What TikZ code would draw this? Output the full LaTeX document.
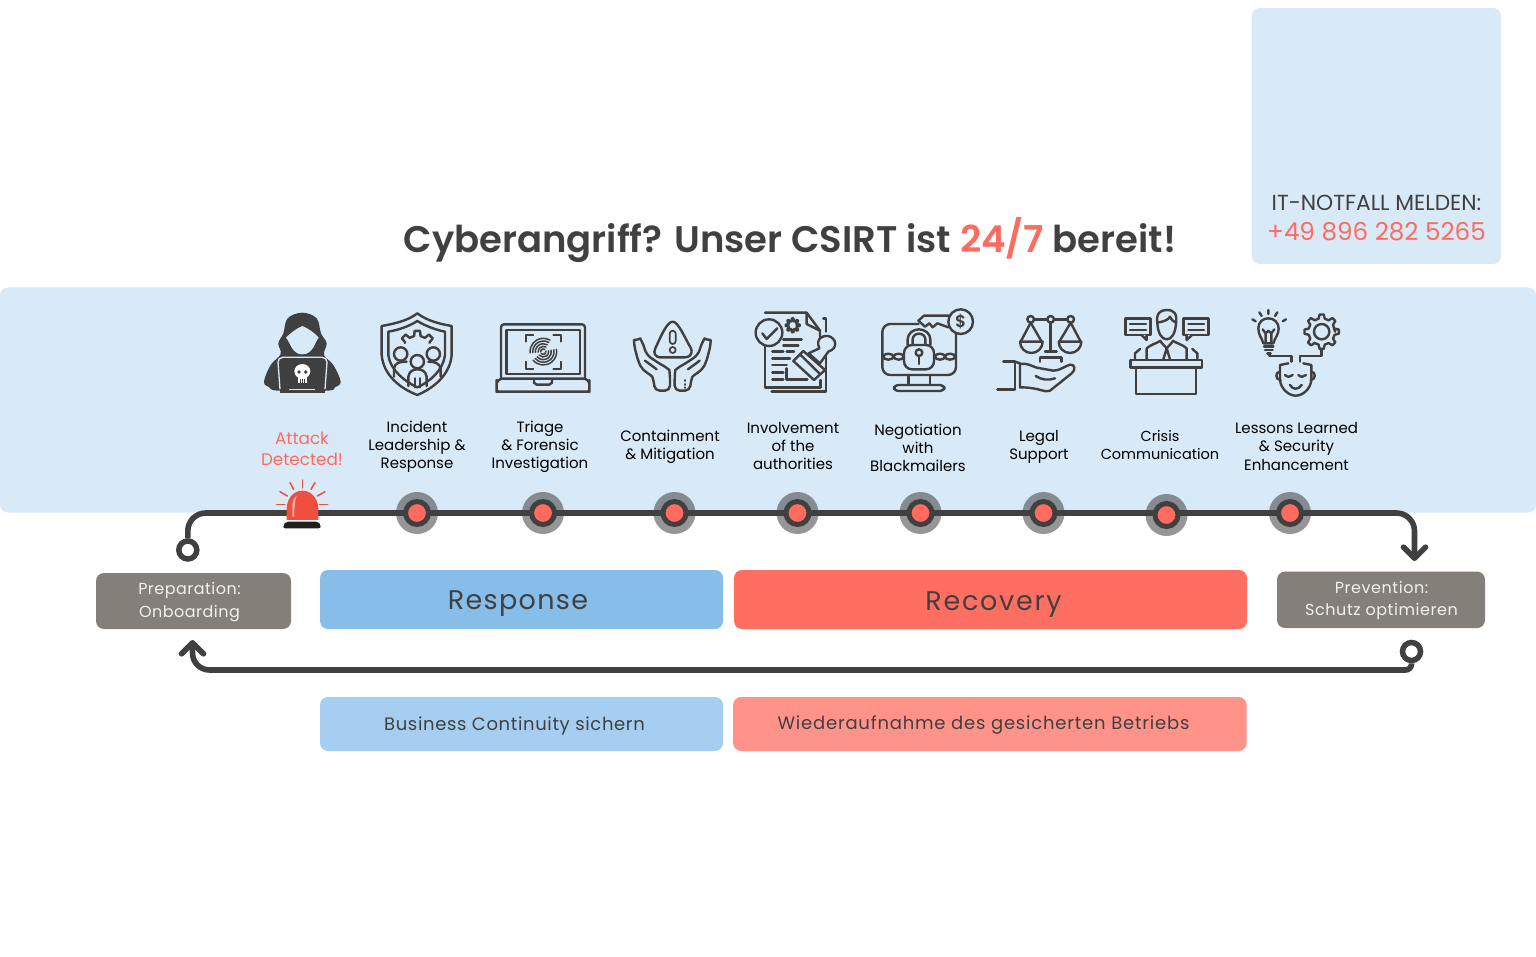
\documentclass[tikz,border=0pt]{standalone}
\usepackage{fontspec}
\setmainfont{Poppins}
\usetikzlibrary{arrows.meta,calc}
\definecolor{panelc}{HTML}{D8E9F8}
\definecolor{dark}{HTML}{404040}
\definecolor{salmon}{HTML}{FF6B5E}
\definecolor{respc}{HTML}{87BEE9}
\definecolor{recc}{HTML}{FF6F61}
\definecolor{resl}{HTML}{A5CEF0}
\definecolor{recl}{HTML}{FF938A}
\definecolor{greyb}{HTML}{857F7A}
\definecolor{greyt}{HTML}{F2F0EE}
\definecolor{sirenc}{HTML}{F04E3E}
\newcommand{\fs}[2]{\fontsize{#1}{#2}\selectfont}
\tikzset{
 z/.style 2 args={x=.33333pt,y=-.33333pt,xshift=#1pt,yshift=-#2pt},
 ic/.style={draw=dark,line width=2.4pt,line cap=round,line join=round},
 icthin/.style={draw=dark,line width=1.7pt,line cap=round,line join=round},
 box/.style={rounded corners=8pt,inner sep=0pt},
 lab/.style={align=center,inner sep=0pt,font=\fs{15}{18},text=black},
 flow/.style={draw=dark,line width=5.6pt,rounded corners=18pt},
 endring/.style={circle,draw=dark,line width=5.5pt,fill=white,minimum size=18pt,inner sep=0pt},
 stepdot/.style={circle,draw=dark,line width=5pt,fill=salmon,minimum size=23pt,inner sep=0pt},
 halo/.style={circle,fill=dark,fill opacity=.55,minimum size=42pt,inner sep=0pt},
 barb/.style={-{Straight Barb[length=11pt,width=22pt,round]}},
}
% closed or open toothed outline: centre x, y, inner r, outer r, tooth step, first angle, list of tooth angles
\newcommand{\gearline}[7]{\draw[ic] ($(#1,#2)+(#6:#3)$) \foreach \ang in {#7}{ -- ($(#1,#2)+({\ang-.30*#5}:#3)$) -- ($(#1,#2)+({\ang-.15*#5}:#4)$) -- ($(#1,#2)+({\ang+.15*#5}:#4)$) -- ($(#1,#2)+({\ang+.30*#5}:#3)$) } -- ($(#1,#2)+(#6:#3)$);}
\begin{document}
\begin{tikzpicture}[x=1pt,y=-1pt]
\useasboundingbox (0,0) rectangle (1536,957);
\fill[white] (0,0) rectangle (1536,957);
% panels
\node[box,fill=panelc,minimum width=249pt,minimum height=256pt] (alarmbox) at (1376.5,136) {};
\node[box,fill=panelc,minimum width=1536pt,minimum height=225pt] (panel) at (768,400) {};
\node[inner sep=0pt,text=dark,font=\fs{21.8}{26}] (alarm1) at (1376.5,203) {IT-NOTFALL MELDEN:};
\node[inner sep=0pt,text=salmon,font=\fs{24.6}{28}] (alarm2) at (1376.5,231.5) {+49 896 282 5265};
\node[inner sep=0pt,text=dark,font=\fs{37}{44}\fontspec{Poppins SemiBold}] (title) at (790,240) {Cyberangriff? Unser CSIRT ist {\color{salmon}24/7} bereit!};
% phase boxes
\node[box,fill=greyb,minimum width=195pt,minimum height=56pt] (prep) at (193.5,601) {};
\node[text=greyt,align=center,inner sep=0pt,font=\fs{16}{23}\addfontfeature{LetterSpace=3}] (preptxt) at (189.5,602) {Preparation:\\Onboarding};
\node[box,fill=respc,minimum width=403pt,minimum height=59pt] (resp) at (521.5,599.5) {};
\node[inner sep=0pt,text=dark,font=\fs{27}{32}\addfontfeature{LetterSpace=5}] (resptxt) at (518,603.5) {Response};
\node[box,fill=recc,minimum width=513pt,minimum height=59pt] (rec) at (990.5,599.5) {};
\node[inner sep=0pt,text=dark,font=\fs{27}{32}\addfontfeature{LetterSpace=6.5}] (rectxt) at (993.5,604.5) {Recovery};
\node[box,fill=greyb,minimum width=208pt,minimum height=56.5pt] (prev) at (1381,599.8) {};
\node[text=greyt,align=center,inner sep=0pt,font=\fs{16}{22}\addfontfeature{LetterSpace=3.5}] (prevtxt) at (1381.5,600) {Prevention:\\Schutz optimieren};
\node[box,fill=resl,minimum width=403pt,minimum height=54pt] (bc) at (521.5,724) {};
\node[inner sep=0pt,text=dark,font=\fs{18}{22}\addfontfeature{LetterSpace=3.6}] (bctxt) at (514.5,725.5) {Business Continuity sichern};
\node[box,fill=recl,minimum width=513.5pt,minimum height=54pt] (wb) at (989.8,724) {};
\node[inner sep=0pt,text=dark,font=\fs{18}{22}\addfontfeature{LetterSpace=4.4}] (wbtxt) at (983.5,725) {Wiederaufnahme des gesicherten Betriebs};
% connectors
\node[endring] (start) at (187.8,550) {};
\coordinate (topmid) at (800,513);
\coordinate (tipright) at (1414.5,561);
\draw[flow,barb] (start.north) |- (topmid) -| (tipright);
\node[endring] (loopstart) at (1411.5,651.5) {};
\coordinate (botmid) at (800,670);
\coordinate (tipleft) at (192.5,640);
\draw[draw=dark,line width=5.6pt,barb] (loopstart.south) [rounded corners=6pt] |- (botmid) [rounded corners=17pt] -| (tipleft);
% step markers
\foreach \n/\xx/\yy in {1/417/513,2/543/513,3/674.5/513,4/797.5/513,5/920.5/513,6/1043.5/513,7/1166.5/515,8/1290/513}{
  \node[halo] (halo\n) at (\xx,\yy) {};
  \node[stepdot] (stepn\n) at (\xx,\yy) {};
}
% labels
\node[lab,text=salmon,font=\fs{16.8}{21}] (l0) at (302,449) {Attack\\Detected!};
\node[lab] (l1) at (417,446.5) {Incident\\Leadership \&\\Response};
\node[lab] (l2) at (540,446.5) {Triage\\\& Forensic\\Investigation};
\node[lab] (l3) at (670,446.5) {Containment\\\& Mitigation};
\node[lab] (l4) at (793,446) {Involvement\\of the\\authorities};
\node[lab] (l5) at (918,447.5) {Negotiation\\with\\Blackmailers};
\node[lab] (l6) at (1039,446.5) {Legal\\Support};
\node[lab,font=\fs{14.5}{18}] (l7) at (1160,445.5) {Crisis\\Communication};
\node[lab,font=\fs{15}{18.5}] (l8) at (1296.5,446.5) {Lessons Learned\\\& Security\\Enhancement};
% siren
\begin{scope}[z={250}{300}]
 \foreach \a/\b/\c/\d in {157/540/157/564,120/548/131/568,195/548/183/568,90/575/112/588,225/575/202/588,80/613/105/613,208/613/233/613}
   \draw[sirenc,line width=1.5pt,line cap=round] (\a,\b) -- (\c,\d);
 \fill[sirenc] (110,660) -- (110,625) .. controls (112,590) and (135,572) .. (157,572) .. controls (180,572) and (203,590) .. (205,625) -- (205,660) -- cycle;
 \fill[white,opacity=.55] (127,650) -- (127,615) .. controls (128,600) and (133,592) .. (140,587) .. controls (135,600) and (133,615) .. (133,650) -- cycle;
 \fill[black!88,rounded corners=2pt] (100,685) -- (100,675) -- (108,665) -- (205,665) -- (212,675) -- (212,685) -- cycle;
\end{scope}
% hacker
\begin{scope}[z={250}{300}]
 \fill[dark] plot[smooth cycle,tension=.6] coordinates {(157,38) (200,55) (213,100) (230,130) (222,165) (250,195) (272,245) (255,262) (232,272) (85,272) (58,262) (42,245) (62,195) (92,162) (85,130) (100,100) (113,55)};
 \fill[panelc] (157,78) .. controls (140,85) and (120,100) .. (108,113) .. controls (120,125) and (125,163) .. (157,163) .. controls (190,163) and (195,125) .. (206,113) .. controls (195,100) and (175,85) .. (157,78) -- cycle;
 \draw[panelc,line width=1.3pt,rounded corners=5pt,fill=dark] (90,268) -- (83,172) -- (232,172) -- (225,268);
 \fill[dark] (90,268) rectangle (225,280);
 \draw[panelc,line width=1.2pt] (118,268) -- (195,268);
 \fill[white] (157,214) ellipse (24 and 22);
 \fill[white] (143,225) rectangle (171,250);
 \fill[dark] (147,216) circle (5.5) (167,216) circle (5.5);
 \draw[dark,line width=.7pt] (150,238) -- (150,250) (157,238) -- (157,250) (164,238) -- (164,250);
\end{scope}
% shield
\begin{scope}[z={250}{300}]
 \draw[ic] (502,40) .. controls (530,62) and (570,72) .. (605,78) -- (605,165) .. controls (600,225) and (550,265) .. (502,285) .. controls (450,265) and (400,225) .. (395,165) -- (395,78) .. controls (430,72) and (475,62) .. (502,40) -- cycle;
 \draw[ic] (502,63) .. controls (530,80) and (560,90) .. (585,95) -- (585,165) .. controls (580,210) and (540,245) .. (502,262) .. controls (465,245) and (420,210) .. (415,165) -- (415,95) .. controls (445,90) and (475,80) .. (502,63) -- cycle;
 \draw[ic] ($(502,150)+(210:43)$) \foreach \ang in {225,270,315}{ -- ($(502,150)+({\ang-13}:43)$) -- ($(502,150)+({\ang-8}:58)$) -- ($(502,150)+({\ang+8}:58)$) -- ($(502,150)+({\ang+13}:43)$) } -- ($(502,150)+(-30:43)$);
 \draw[ic,fill=panelc] (452,162) circle (20) (550,162) circle (20);
 \draw[ic] (432,230) -- (432,205) .. controls (435,190) and (445,185) .. (470,185);
 \draw[ic] (572,230) -- (572,205) .. controls (568,190) and (555,185) .. (535,185);
 \draw[ic,fill=panelc] (502,185) circle (20);
 \draw[ic] (475,258) -- (475,230) .. controls (478,213) and (490,208) .. (502,208) .. controls (515,208) and (527,213) .. (530,230) -- (530,258);
 \draw[ic] (495,235) -- (495,262) (510,235) -- (510,262);
\end{scope}
% laptop
\begin{scope}[z={250}{300}]
 \draw[ic,rounded corners=3pt] (753,236) -- (753,73) -- (1005,73) -- (1005,236);
 \draw[ic] (770,90) rectangle (990,222);
 \draw[ic,rounded corners=6pt] (740,236) -- (1018,236) -- (1018,258) .. controls (1018,268) and (1010,275) .. (1000,275) -- (758,275) .. controls (748,275) and (740,268) .. (740,258) -- cycle;
 \draw[ic] (852,238) -- (852,248) -- (860,254) -- (898,254) -- (906,248) -- (906,238);
 \draw[icthin] (828,125) -- (828,105) -- (850,105) (910,105) -- (932,105) -- (932,125) (932,185) -- (932,207) -- (910,207) (850,207) -- (828,207) -- (828,185);
 \foreach \r in {8,16,24,32,40}{
  \draw[draw=dark,line width=1.5pt,line cap=round] ($(880,155)+(140:\r)$) arc (140:-10:\r);
  \draw[draw=dark,line width=1.5pt,line cap=round] ($(880,155)+(175:\r)$) arc (175:300:\r);
 }
\end{scope}
% containment
\begin{scope}[z={610}{300}]
 \draw[ic] (188,65) .. controls (205,65) and (225,115) .. (243,145) .. controls (250,165) and (235,172) .. (225,172) -- (150,172) .. controls (138,172) and (128,160) .. (136,145) .. controls (150,115) and (170,65) .. (188,65) -- cycle;
 \draw[icthin,rounded corners=3pt] (179,92) rectangle (197,132);
 \draw[icthin] (188,150) circle (9);
 \draw[ic,rounded corners=5pt] (180,272) -- (180,225) .. controls (178,210) and (165,200) .. (150,192) -- (110,165) -- (98,128) .. controls (92,118) and (72,120) .. (72,135) -- (85,185) .. controls (100,215) and (125,225) .. (132,245) -- (134,272) -- cycle;
 \draw[ic] (105,182) -- (140,208);
 \draw[ic,rounded corners=5pt] (194,272) -- (194,225) .. controls (196,210) and (209,200) .. (224,192) -- (264,165) -- (276,128) .. controls (282,118) and (302,120) .. (302,135) -- (289,185) .. controls (274,215) and (249,225) .. (242,245) -- (240,272) -- cycle;
 \draw[ic] (269,182) -- (234,208);
 \draw[icthin] (225,240) -- (225,243) (225,252) -- (225,255) (225,262) -- (225,264);
\end{scope}
% document and stamp
\begin{scope}[z={610}{300}]
 \draw[ic] (465,38) -- (590,38) -- (630,92) -- (630,112);
 \draw[ic] (590,38) -- (590,72) -- (630,92);
 \draw[ic] (640,55) -- (648,55) -- (648,95);
 \draw[ic] (465,140) -- (465,262) -- (632,262) -- (632,240);
 \draw[ic] (485,275) -- (648,275) -- (648,170);
 \draw[ic] (477,98) circle (40);
 \draw[ic] (457,100) -- (470,117) -- (502,85);
 \gearline{548}{76}{13}{21}{45}{0}{0,45,90,135,180,225,270,315}
 \draw[ic] (520,118) -- (575,118) (520,137) -- (565,137) (487,155) -- (520,155) (530,155) -- (552,155) (487,175) -- (540,175) (487,195) -- (530,195) (487,218) -- (520,218) (487,238) -- (520,238);
 \draw[ic] (530,205) -- (530,238) -- (592,238);
 \draw[ic,fill=panelc] (550,183) -- (580,153) -- (645,210) -- (612,240) -- cycle;
 \draw[ic] (572,165) -- (630,222);
 \draw[ic,fill=panelc] (596,160) -- (628,145) .. controls (615,115) and (640,105) .. (655,108) .. controls (680,115) and (685,145) .. (655,155) -- (630,190) -- cycle;
\end{scope}
% monitor, lock and key
\begin{scope}[z={610}{300}]
 \draw[ic,rounded corners=8pt] (925,72) -- (817,72) -- (817,225) -- (1038,225) -- (1038,100);
 \draw[ic] (895,225) -- (895,255) (960,225) -- (960,255);
 \draw[ic,rounded corners=4pt] (852,255) rectangle (1003,273);
 \draw[ic,rounded corners=8pt] (882,135) rectangle (972,208);
 \draw[ic] (893,135) -- (893,118) arc (180:360:34 and 30) -- (961,135);
 \draw[ic] (908,135) -- (908,118) arc (180:360:19 and 17) -- (946,135);
 \draw[ic] (927,158) circle (10);
 \draw[ic] (927,168) -- (927,192);
 \draw[ic] (835,170) ellipse (15 and 9) (866,170) ellipse (15 and 9) (990,170) ellipse (15 and 9) (1020,170) ellipse (15 and 9);
 \draw[ic] (925,62) -- (942,47) -- (1020,47);
 \draw[ic] (925,62) -- (945,80) -- (958,70) -- (968,82) -- (982,70) -- (1015,82);
 \draw[ic] (1052,65) circle (37);
 \node[inner sep=0pt,text=dark,font=\fs{17}{17}\fontspec{Poppins SemiBold}] (dollar) at (1052,65) {\$};
\end{scope}
% scales and hand
\begin{scope}[z={990}{300}]
 \draw[ic] (132,58) -- (172,58) (192,58) -- (232,58);
 \draw[ic] (122,58) circle (10) (182,58) circle (10) (242,58) circle (10);
 \draw[ic] (182,68) -- (182,155);
 \draw[ic] (122,68) -- (92,125) (122,68) -- (155,125) (242,68) -- (208,125) (242,68) -- (272,125);
 \draw[ic] (90,125) -- (158,125) arc (0:180:34);
 \draw[ic] (206,125) -- (274,125) arc (0:180:34);
 \draw[ic] (165,155) -- (200,155);
 \draw[ic] (150,185) -- (150,172) -- (215,172) -- (215,185);
 \draw[ic] (40,185) -- (75,185) -- (75,268) -- (22,268);
 \draw[ic] (75,185) -- (90,190) -- (90,262);
 \draw[ic] (90,192) .. controls (110,188) and (125,198) .. (140,203) -- (190,212) .. controls (210,212) and (225,198) .. (240,194) .. controls (255,192) and (258,210) .. (245,220) -- (180,272) .. controls (165,280) and (150,262) .. (90,262);
 \draw[ic] (137,228) .. controls (155,240) and (175,242) .. (195,235);
\end{scope}
% speaker at podium
\begin{scope}[z={990}{300}]
 \draw[ic] (406,56) rectangle (482,105);
 \draw[ic,fill=panelc] (455,105) -- (470,120) -- (470,105);
 \draw[ic] (420,72) -- (468,72) (420,90) -- (468,90);
 \draw[ic] (580,56) rectangle (655,105);
 \draw[ic,fill=panelc] (590,105) -- (590,120) -- (606,105);
 \draw[ic] (595,72) -- (642,72) (595,90) -- (642,90);
 \draw[ic] (502,70) .. controls (498,40) and (510,30) .. (530,30) .. controls (552,30) and (562,40) .. (558,70) .. controls (556,100) and (545,118) .. (530,118) .. controls (515,118) and (504,100) .. (502,70);
 \draw[ic] (502,68) .. controls (520,65) and (535,60) .. (540,50) .. controls (545,60) and (550,65) .. (558,68);
 \draw[ic] (470,178) -- (470,145) .. controls (480,135) and (500,130) .. (512,122);
 \draw[ic] (590,178) -- (590,145) .. controls (580,135) and (560,130) .. (548,122);
 \draw[ic] (512,125) -- (530,145) -- (548,125);
 \draw[ic] (530,145) -- (520,178) (530,145) -- (540,178);
 \draw[ic] (435,175) -- (435,160) -- (450,147) (622,175) -- (622,160) -- (607,147);
 \draw[ic] (422,180) rectangle (636,203);
 \draw[ic] (438,203) -- (438,282) -- (618,282) -- (618,203);
\end{scope}
% lessons learned
\begin{scope}[z={990}{300}]
 \draw[ic] (820,130) .. controls (815,112) and (805,105) .. (805,85) .. controls (805,65) and (820,55) .. (835,55) .. controls (852,55) and (866,68) .. (866,85) .. controls (866,105) and (855,112) .. (850,130) -- cycle;
 \draw[ic] (827,130) -- (827,100) -- (818,88) (844,130) -- (844,100) -- (853,88) (827,100) -- (835,92) -- (844,100);
 \draw[ic] (822,140) -- (850,140) (825,150) -- (848,150) (832,160) -- (842,160);
 \draw[ic] (835,30) -- (835,42) (808,37) -- (815,48) (862,37) -- (855,48) (787,58) -- (797,64) (888,58) -- (878,64);
 \draw[ic] (995,95) circle (23);
 \gearline{995}{95}{40}{52}{45}{0}{0,45,90,135,180,225,270,315}
 \draw[ic] (838,165) -- (838,168) -- (905,168) -- (905,185);
 \draw[ic] (930,185) -- (930,168) -- (995,168) -- (995,148);
 \draw[ic] (895,190) -- (870,195) -- (870,240) .. controls (872,265) and (895,287) .. (917,287) .. controls (940,287) and (962,265) .. (964,240) -- (964,195) -- (940,190);
 \draw[ic] (870,215) .. controls (855,215) and (855,240) .. (872,240);
 \draw[ic] (964,215) .. controls (978,215) and (978,240) .. (962,240);
 \draw[ic] (885,225) .. controls (892,232) and (902,232) .. (908,225) (925,225) .. controls (932,232) and (942,232) .. (948,225);
 \draw[ic] (900,255) .. controls (908,270) and (925,270) .. (935,255);
\end{scope}
\end{tikzpicture}
\end{document}
